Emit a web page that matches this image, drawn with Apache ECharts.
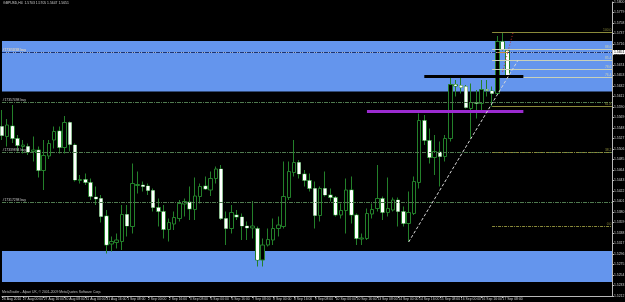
<!DOCTYPE html>
<html><head><meta charset="utf-8">
<script src="https://cdn.jsdelivr.net/npm/echarts@6/dist/echarts.min.js"></script>
<style>html,body{margin:0;padding:0;background:#000;}#c{width:625px;height:302px;}</style>
</head><body><div id="c"></div>
<script>
// GBPUSD H4 bars, 26 Aug 2010 08:00 .. 17 Sep 2010 12:00
const openP=[1.5551,1.5531,1.5552,1.5527,1.5511,1.5511,1.5501,1.5504,1.5463,1.5492,
1.5524,1.5542,1.5509,1.5559,1.5514,1.5443,1.5445,1.5439,1.5410,1.5407,
1.5372,1.5316,1.5319,1.5321,1.5375,1.5351,1.5433,1.5434,1.5432,1.5423,
1.5389,1.5381,1.5345,1.5356,1.5367,1.5396,1.5400,1.5385,1.5411,1.5432,
1.5424,1.5447,1.5466,1.5367,1.5347,1.5374,1.5370,1.5352,1.5348,1.5347,
1.5284,1.5314,1.5324,1.5347,1.5351,1.5409,1.5459,1.5479,1.5456,1.5443,
1.5427,1.5373,1.5427,1.5414,1.5409,1.5374,1.5383,1.5424,1.5374,1.5326,
1.5327,1.5376,1.5387,1.5407,1.5379,1.5384,1.5404,1.5381,1.5357,1.5377,
1.5439,1.5563,1.5523,1.5489,1.5500,1.5491,1.5527,1.5635,1.5633,1.5631,
1.5587,1.5599,1.5597,1.5625,1.5622,1.5617,1.5721,1.5703];
const closeP=[1.5533,1.5554,1.5527,1.5513,1.5514,1.5500,1.5504,1.5463,1.5493,1.5517,
1.5541,1.5509,1.5559,1.5515,1.5444,1.5445,1.5439,1.5411,1.5406,1.5371,
1.5314,1.5321,1.5324,1.5375,1.5352,1.5437,1.5435,1.5431,1.5423,1.5389,
1.5381,1.5345,1.5359,1.5369,1.5397,1.5401,1.5386,1.5412,1.5431,1.5426,
1.5447,1.5466,1.5367,1.5347,1.5379,1.5370,1.5352,1.5348,1.5352,1.5284,
1.5314,1.5325,1.5347,1.5354,1.5411,1.5461,1.5479,1.5456,1.5443,1.5427,
1.5373,1.5427,1.5414,1.5409,1.5374,1.5383,1.5424,1.5374,1.5327,1.5328,
1.5377,1.5385,1.5407,1.5379,1.5387,1.5404,1.5381,1.5357,1.5379,1.5441,
1.5563,1.5523,1.5489,1.5501,1.5491,1.5527,1.5635,1.5632,1.5629,1.5589,
1.5599,1.5597,1.5625,1.5623,1.5617,1.5721,1.5705,1.5651];
const lowP=[1.5524,1.5511,1.5518,1.5501,1.5497,1.5494,1.5481,1.5449,1.5424,1.5486,
1.5507,1.5497,1.5497,1.5501,1.5441,1.5437,1.5434,1.5404,1.5394,1.5359,
1.5297,1.5301,1.5307,1.5304,1.5331,1.5337,1.5417,1.5421,1.5414,1.5381,
1.5351,1.5327,1.5321,1.5344,1.5361,1.5371,1.5364,1.5364,1.5397,1.5424,
1.5412,1.5437,1.5364,1.5314,1.5337,1.5364,1.5324,1.5324,1.5327,1.5271,
1.5271,1.5311,1.5314,1.5331,1.5347,1.5404,1.5451,1.5447,1.5431,1.5421,
1.5347,1.5361,1.5411,1.5401,1.5371,1.5367,1.5337,1.5357,1.5314,1.5314,
1.5324,1.5367,1.5381,1.5364,1.5371,1.5381,1.5351,1.5351,1.5321,1.5374,
1.5427,1.5514,1.5477,1.5454,1.5431,1.5481,1.5521,1.5611,1.5617,1.5587,
1.5527,1.5567,1.5581,1.5611,1.5591,1.5616,1.5703,1.5647];
const highP=[1.5584,1.5566,1.5594,1.5534,1.5524,1.5517,1.5531,1.5511,1.5524,1.5524,
1.5551,1.5551,1.5572,1.5561,1.5517,1.5454,1.5457,1.5447,1.5431,1.5414,
1.5384,1.5331,1.5337,1.5394,1.5394,1.5477,1.5461,1.5441,1.5437,1.5427,
1.5407,1.5394,1.5367,1.5381,1.5404,1.5407,1.5431,1.5449,1.5437,1.5451,
1.5461,1.5471,1.5474,1.5381,1.5394,1.5384,1.5377,1.5361,1.5402,1.5351,
1.5327,1.5347,1.5367,1.5371,1.5481,1.5481,1.5524,1.5484,1.5464,1.5457,
1.5441,1.5431,1.5461,1.5427,1.5412,1.5397,1.5447,1.5451,1.5377,1.5337,
1.5387,1.5397,1.5474,1.5411,1.5449,1.5409,1.5409,1.5391,1.5421,1.5451,
1.5577,1.5574,1.5547,1.5534,1.5521,1.5534,1.5654,1.5644,1.5651,1.5634,
1.5637,1.5624,1.5644,1.5644,1.5631,1.5732,1.5739,1.5705];
const dayNames=['26 Aug','27 Aug','30 Aug','31 Aug','1 Sep','2 Sep','3 Sep','6 Sep','7 Sep','8 Sep','9 Sep','10 Sep','13 Sep','14 Sep','15 Sep','16 Sep','17 Sep'];
const hourNames=['00:00','04:00','08:00','12:00','16:00','20:00'];
const yTicks=[1.5800,1.5779,1.5758,1.5737,1.5716,1.5695,1.5674,1.5653,1.5632,1.5611,1.5590,1.5569,1.5548,1.5527,1.5506,1.5485,1.5464,1.5443,1.5422,1.5401,1.5380,1.5359,1.5338,1.5317,1.5296,1.5275,1.5254,1.5233,1.5212];
const titleText='GBPUSD,H4  1.5703 1.5705 1.5647 1.5651';
const footText='MetaTrader - Alpari UK, \u00a9 2001-2009 MetaQuotes Software Corp.';
const zones=[[1.5722,1.5621],[1.5302,1.5240]];
const orders=[[1.5722,'#17373783 buy'],[1.5686,'#17364448 buy'],[1.5604,'#17357498 buy'],[1.5502,'#17339894 buy'],[1.5354,'#17317298 buy']];
const fiboLevels=[[1.5739,'100.0','olive'],[1.5706,'88.6','light'],[1.5684,'85.4','light'],[1.5666,'78.6','light'],[1.5649,'76.4','light'],[1.5592,'61.8','olive'],[1.5500,'38.2','dot'],[1.5352,'0.0','dot']];
const bid=1.5651;

const NBARS=openP.length, NCAT=118;
const cats=[];
for(const d of dayNames){for(const h of hourNames){
  if(d==='26 Aug' && (h==='00:00'||h==='04:00')) continue;
  if(cats.length<NBARS) cats.push(d+' '+h);
}}
for(let i=NBARS;i<NCAT;i++) cats.push('x'+i);
const ohlc=openP.map((o,i)=>[o,closeP[i],lowP[i],highP[i]]);
const bearBodies=openP.map((o,i)=>closeP[i]<o?[o,closeP[i],closeP[i],o]:'-');
const showTick=(i)=>i%4===0 && i<NBARS;
const F='Liberation Sans, Arial, sans-serif';
const fs=3.4;

const ml=[];
ml.push({yAxis:bid,lineStyle:{color:'#a8aeb8',width:1,type:'solid'},
  label:{show:true,position:'end',formatter:bid.toFixed(4),backgroundColor:'#fff',color:'#000',fontSize:fs,fontFamily:F,padding:[0.5,1],distance:1}});
orders.forEach(([p,t],k)=>ml.push({yAxis:p,lineStyle:{color:k<2?'#1d3575':'#4f7a4f',width:1,type:[4,1,1,1]},
  label:{show:true,position:'insideStartTop',formatter:t,color:'#c8c8c8',fontSize:fs,fontFamily:F,distance:0.5}}));
fiboLevels.forEach(([p,t,s])=>{
  const col=s==='light'?'#c9d1b8':'#8a8a3a';
  ml.push([{coord:[94,p],lineStyle:{color:col,width:1,type:s==='dot'?[3,1,1,1]:'solid'},
    label:{show:true,position:'insideEndTop',formatter:t,color:col,fontSize:fs,fontFamily:F,distance:0.5}},{coord:[117,p]}]);
});
ml.push([{coord:[81,1.5651],lineStyle:{color:'#000',width:3,type:'solid'},label:{show:false}},{coord:[100,1.5651]}]);
ml.push([{coord:[70,1.5582],lineStyle:{color:'#9b2bd0',width:3,type:'solid'},label:{show:false}},{coord:[100,1.5582]}]);
ml.push([{coord:[78,1.5320],lineStyle:{color:'#d8d8d8',width:1,type:[3,2]},label:{show:false}},{coord:[99,1.5684]}]);
ml.push([{coord:[98,1.5738],lineStyle:{color:'#c03030',width:1,type:[1,2]},label:{show:false}},{coord:[96,1.5660]}]);
ml.push([{coord:[95,1.5699],lineStyle:{color:'#c88a3a',width:1,type:'solid'},label:{show:false}},{coord:[97,1.5699]}]);

const chart=echarts.init(document.getElementById('c'),null,{renderer:'canvas'});
chart.setOption({
  animation:false,
  backgroundColor:'#000',
  title:[
    {text:titleText,left:3,top:2,textStyle:{color:'#d0d0d0',fontSize:fs,fontWeight:'normal',fontFamily:F},padding:0},
    {text:footText,left:2,top:291,textStyle:{color:'#c0c0c0',fontSize:fs,fontWeight:'normal',fontFamily:F},padding:0}
  ],
  grid:{left:2,right:13,top:2,bottom:6,containLabel:false,outerBoundsMode:'none'},
  xAxis:{type:'category',data:cats,boundaryGap:false,
    axisLine:{lineStyle:{color:'#b8b8b8',width:1}},
    axisTick:{show:true,length:2,interval:(i)=>showTick(i),lineStyle:{color:'#b8b8b8'}},
    axisLabel:{interval:(i)=>showTick(i),formatter:(v,i)=>i===0?'26 Aug 2010':v,fontSize:fs,fontFamily:F,color:'#d0d0d0',align:'left',margin:1.5},
    splitLine:{show:false}},
  yAxis:{type:'value',position:'right',min:yTicks[yTicks.length-1],max:yTicks[0],
    axisLine:{show:true,lineStyle:{color:'#b8b8b8',width:1}},
    axisTick:{show:true,length:2,customValues:yTicks,lineStyle:{color:'#b8b8b8'}},
    axisLabel:{customValues:yTicks,formatter:(v)=>v.toFixed(4),fontSize:fs,fontFamily:F,color:'#d0d0d0',margin:2},
    splitLine:{show:false}},
  series:[
    {type:'line',data:[],z:1,silent:true,
     markArea:{silent:true,itemStyle:{color:'#6495ED'},data:zones.map(([a,b])=>[{yAxis:a},{yAxis:b}])}},
    {type:'candlestick',data:ohlc,barWidth:4,z:2,clip:true,
     itemStyle:{color:'#000',color0:'#fff',borderColor:'#23802a',borderColor0:'#23802a',borderWidth:1}},
    {type:'candlestick',data:bearBodies,barWidth:3,z:3,clip:true,
     itemStyle:{color:'#fff',color0:'#fff',borderColor:'#fff',borderColor0:'#fff',borderWidth:0}},
    {type:'line',data:[],z:5,silent:true,
     markLine:{silent:true,symbol:['none','none'],animation:false,data:ml}}
  ]
});
</script></body></html>
